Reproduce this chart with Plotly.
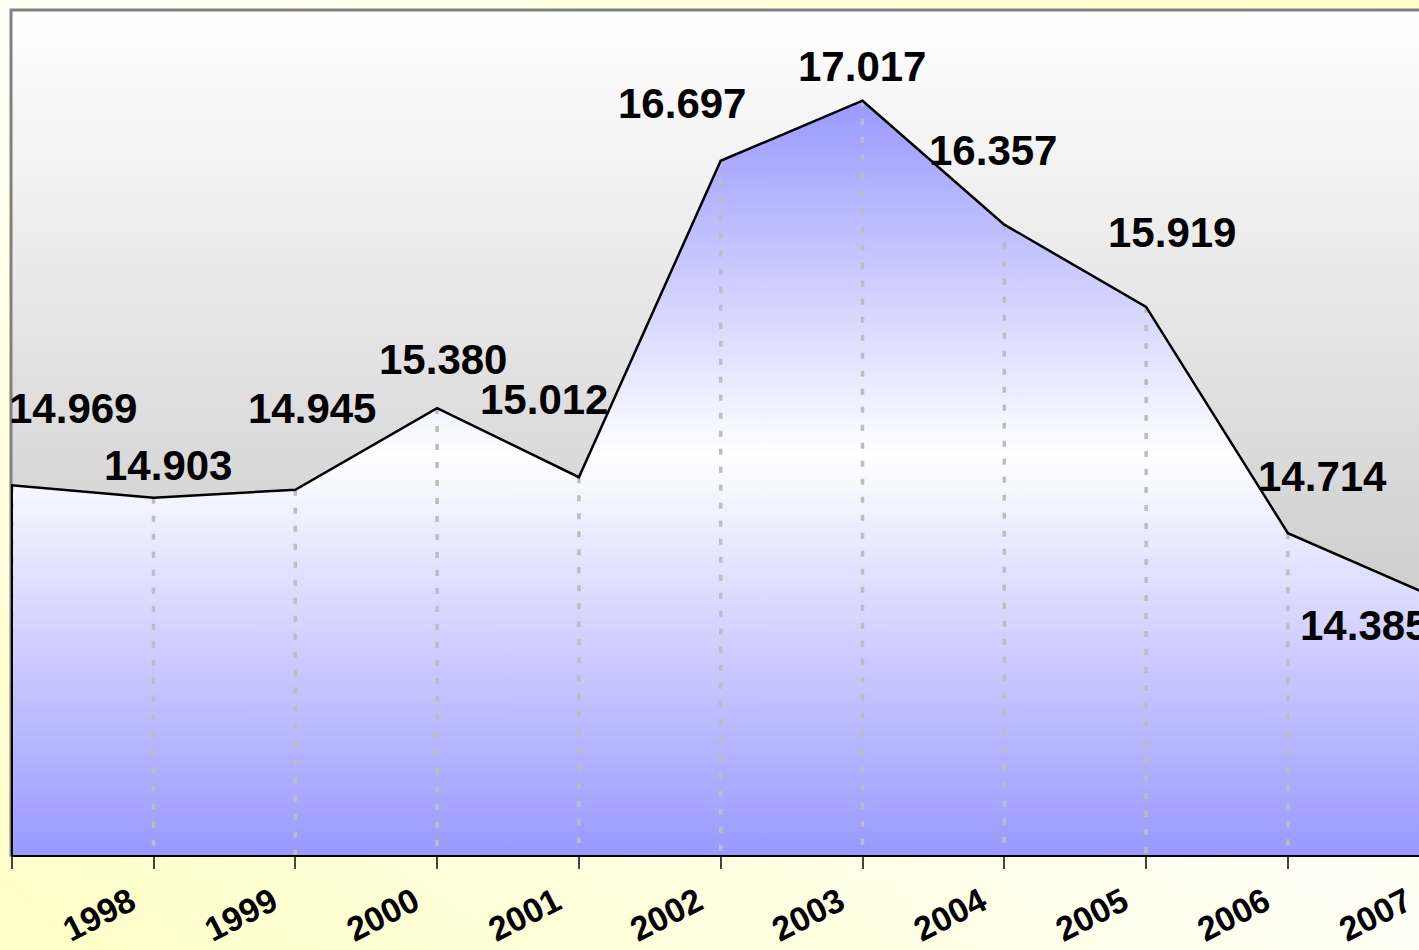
import base64
import plotly.graph_objects as go

# ---------------- data ----------------
years = ['1997', '1998', '1999', '2000', '2001', '2002',
         '2003', '2004', '2005', '2006', '2007']
values = [14.969, 14.903, 14.945, 15.380, 15.012, 16.697,
          17.017, 16.357, 15.919, 14.714, 14.385]
value_labels = [f"{v:.3f}" for v in values]

# pixel offsets of the value labels relative to their point (screen px, +down)
label_dx = [61, 14, 17, 6, -35, -39, -1, -11, 26, 35, -66]
label_dy = [-77, -32, -81, -49, -78, -57, -34, -74, -74, -57, 31]

# ---------------- layout constants ----------------
FIG_W, FIG_H = 1440, 950
M_L, M_R, M_T, M_B = 11, 0, 10, 95
PX_PER_CAT = 141.8
Y_RANGE = [13.0, 17.5]
X0 = -0.7 / PX_PER_CAT
X_RANGE = [X0, X0 + (FIG_W - M_L - M_R) / PX_PER_CAT]
FONT = "Liberation Sans, Arial, sans-serif"

idx = list(range(len(values)))
y_base = Y_RANGE[0]


def svg_uri(svg):
    return "data:image/svg+xml;base64," + base64.b64encode(svg.encode()).decode()


paper_svg = (
    "<svg xmlns='http://www.w3.org/2000/svg' width='100' height='100' "
    "viewBox='0 0 100 100' preserveAspectRatio='none'><defs>"
    "<linearGradient id='g' x1='1' y1='0' x2='0' y2='1'>"
    "<stop offset='0' stop-color='#ffffc6'/>"
    "<stop offset='0.5' stop-color='#fffff6'/>"
    "<stop offset='1' stop-color='#ffffc6'/>"
    "</linearGradient></defs><rect width='100' height='100' fill='url(#g)'/></svg>"
)
plot_svg = (
    "<svg xmlns='http://www.w3.org/2000/svg' width='100' height='100' "
    "viewBox='0 0 100 100' preserveAspectRatio='none'><defs>"
    "<linearGradient id='g' x1='0' y1='0' x2='0' y2='1'>"
    "<stop offset='0' stop-color='#ffffff'/>"
    "<stop offset='1' stop-color='#b9b9b9'/>"
    "</linearGradient></defs><rect width='100' height='100' fill='url(#g)'/></svg>"
)

poly_x = [idx[0]] + idx + [idx[-1]]
poly_y = [y_base] + values + [y_base]

drop_x, drop_y = [], []
for i, v in zip(idx, values):
    drop_x += [i, i, None]
    drop_y += [v, y_base, None]

fig = go.Figure()

# gradient-filled area
fig.add_trace(go.Scatter(
    x=poly_x, y=poly_y, mode="lines", fill="toself",
    fillgradient=dict(type="vertical",
                      colorscale=[[0, "#9999ff"], [0.53, "#ffffff"], [1, "#9999ff"]],
                      start=y_base, stop=max(values)),
    line=dict(width=0), hoverinfo="skip", showlegend=False,
))

# drop lines
fig.add_trace(go.Scatter(
    x=drop_x, y=drop_y, mode="lines",
    line=dict(color="#bdbdbd", width=3.5, dash="6px,12px"),
    hoverinfo="skip", showlegend=False,
))

# area outline
fig.add_trace(go.Scatter(
    x=poly_x, y=poly_y, mode="lines",
    line=dict(color="black", width=2.5),
    hoverinfo="skip", showlegend=False,
))

annotations = []
for i, v, t, dx, dy in zip(idx, values, value_labels, label_dx, label_dy):
    annotations.append(dict(
        x=i, y=v, xref="x", yref="y", text=t, showarrow=False,
        xanchor="center", yanchor="middle", xshift=dx, yshift=-dy,
        font=dict(family=FONT, size=42, color="black", weight="bold"),
    ))

plot_w = FIG_W - M_L - M_R
plot_h = FIG_H - M_T - M_B

fig.update_layout(
    template="none",
    width=FIG_W, height=FIG_H,
    margin=dict(l=M_L, r=M_R, t=M_T, b=M_B, pad=0),
    paper_bgcolor="#ffffee",
    plot_bgcolor="rgba(0,0,0,0)",
    showlegend=False,
    annotations=annotations,
    images=[
        dict(source=svg_uri(paper_svg), xref="paper", yref="paper",
             x=-M_L / plot_w, y=1 + M_T / plot_h,
             sizex=FIG_W / plot_w, sizey=FIG_H / plot_h,
             xanchor="left", yanchor="top", sizing="stretch", layer="below"),
        dict(source=svg_uri(plot_svg), xref="paper", yref="paper",
             x=0, y=1, sizex=1, sizey=1,
             xanchor="left", yanchor="top", sizing="stretch", layer="below"),
    ],
    shapes=[dict(type="rect", xref="paper", yref="paper", x0=0, x1=1, y0=0, y1=1,
                 line=dict(color="#808080", width=3), layer="below")],
    xaxis=dict(
        range=X_RANGE, tickmode="array", tickvals=idx, ticktext=years,
        ticks="outside", ticklen=12, tickwidth=1.5, tickcolor="#444444",
        showline=True, linecolor="black", linewidth=2,
        showgrid=False, zeroline=False, automargin=False,
        tickangle=-27, ticklabelshift=-23, ticklabelstandoff=0,
        tickfont=dict(family=FONT, size=34, color="black", weight="bold"),
    ),
    yaxis=dict(range=Y_RANGE, visible=False, showgrid=False, zeroline=False,
               automargin=False),
)

fig.write_html(
    "out.html",
    config={"displayModeBar": False},
    post_script="document.body.style.margin='0';document.body.style.overflow='hidden';"
                "document.documentElement.style.overflow='hidden';",
)
